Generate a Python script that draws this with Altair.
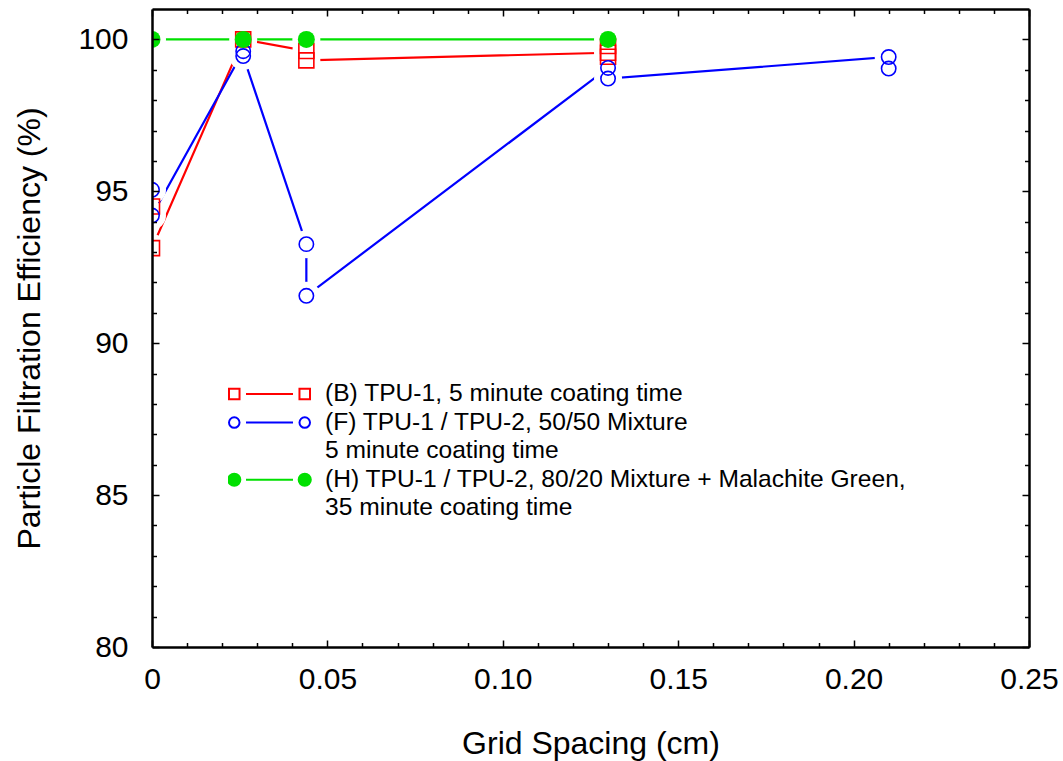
import altair as alt
import pandas as pd

# ---------------- data ----------------
red_x = [0.0, 0.0, 0.026, 0.044, 0.044, 0.13, 0.13, 0.13]
red_y = [94.5, 93.13, 100.0, 99.62, 99.31, 99.56, 99.78, 99.43]

blue_x = [0.0, 0.0, 0.026, 0.026, 0.044, 0.044, 0.13, 0.13, 0.21, 0.21]
blue_y = [95.05, 94.2, 99.61, 99.45, 93.26, 91.56, 99.06, 98.71, 99.42, 99.04]

green_x = [0.0, 0.026, 0.044, 0.13]
green_y = [100.0, 100.0, 100.0, 100.0]

legend_labels = [
    "(B) TPU-1, 5 minute coating time",
    "(F) TPU-1 / TPU-2, 50/50 Mixture",
    "5 minute coating time",
    "(H) TPU-1 / TPU-2, 80/20 Mixture + Malachite Green,",
    "35 minute coating time",
]

x_major = [0.0, 0.05, 0.10, 0.15, 0.20, 0.25]
x_minor = [round(i * 0.01, 2) for i in range(1, 25) if i % 5]
y_major = [80, 85, 90, 95, 100]
y_minor = [v for v in range(81, 101) if v % 5]

RED = "#ff0000"
BLUE = "#0000ff"
GREEN = "#00e000"
FONT = "Liberation Sans"

red_df = pd.DataFrame({"x": red_x, "y": red_y, "i": list(range(len(red_x)))})
blue_df = pd.DataFrame({"x": blue_x, "y": blue_y, "i": list(range(len(blue_x)))})
green_df = pd.DataFrame({"x": green_x, "y": green_y, "i": list(range(len(green_x)))})
legend_df = pd.DataFrame({"entry": legend_labels})

xs = alt.Scale(domain=[0, 0.25], nice=False, zero=False)
ys = alt.Scale(domain=[80, 101], nice=False, zero=False)

MAJ = 7
MIN = 4.5


def tick_axis(orient, values, size):
    return alt.Axis(orient=orient, values=values, tickSize=size, offset=-size,
                    domain=False, grid=False, labels=False, ticks=True,
                    tickColor="black", tickWidth=1.5, zindex=1)


def frame_axis(orient):
    return alt.Axis(orient=orient, domain=True, ticks=False, labels=False,
                    grid=False, domainColor="black", domainWidth=2.5, zindex=1)


main_x_axis = alt.Axis(orient="bottom", values=x_major, tickSize=MAJ, offset=-MAJ,
                       domain=False, grid=False, tickColor="black", tickWidth=1.5,
                       labelExpr="datum.value == 0 ? '0' : format(datum.value, '.2f')",
                       labelFlush=False, labelOverlap=False,
                       labelFont=FONT, labelFontSize=30, labelColor="black",
                       labelPadding=17, titleFont=FONT, titleFontSize=32,
                       titleFontWeight="normal", titleColor="black", titlePadding=34,
                       zindex=1)
main_y_axis = alt.Axis(orient="left", values=y_major, tickSize=MAJ, offset=-MAJ,
                       domain=False, grid=False, tickColor="black", tickWidth=1.5,
                       format="d", labelFlush=False, labelOverlap=False,
                       labelFont=FONT, labelFontSize=30, labelColor="black",
                       labelPadding=24, titleFont=FONT, titleFontSize=32,
                       titleFontWeight="normal", titleColor="black", titlePadding=31,
                       zindex=1)


def X(axis, title=None):
    if axis is None:
        return alt.X("x:Q", scale=xs, axis=None)
    return alt.X("x:Q", scale=xs, axis=axis, title=title)


def Y(axis, title=None):
    if axis is None:
        return alt.Y("y:Q", scale=ys, axis=None)
    return alt.Y("y:Q", scale=ys, axis=axis, title=title)


def line(df, color, xa, ya, xt=None, yt=None):
    return alt.Chart(df).mark_line(color=color, strokeWidth=2.2, clip=True).encode(
        x=X(xa, xt), y=Y(ya, yt), order=alt.Order("i:Q"))


def eraser(df, xa, ya):
    return alt.Chart(df).mark_point(shape="circle", filled=True, color="white",
                                    opacity=1, size=784, clip=True).encode(
        x=X(xa), y=Y(ya))


red_line = line(red_df, RED, main_x_axis, main_y_axis,
                "Grid Spacing (cm)", "Particle Filtration Efficiency (%)")
red_er = eraser(red_df, tick_axis("bottom", x_minor, MIN), tick_axis("left", y_minor, MIN))
blue_line = line(blue_df, BLUE, tick_axis("top", x_major, MAJ), tick_axis("right", y_major, MAJ))
blue_er = eraser(blue_df, tick_axis("top", x_minor, MIN), tick_axis("right", y_minor, MIN))
green_line = line(green_df, GREEN, frame_axis("bottom"), frame_axis("left"))
green_er = eraser(green_df, frame_axis("top"), frame_axis("right"))

red_pts = alt.Chart(red_df).mark_point(shape="square", filled=False, color=RED, opacity=1,
                                       size=225, strokeWidth=1.6, clip=True).encode(
    x=X(None), y=Y(None))
blue_pts = alt.Chart(blue_df).mark_point(shape="circle", filled=False, color=BLUE, opacity=1,
                                         size=206, strokeWidth=1.6, clip=True).encode(
    x=X(None), y=Y(None))
green_pts = alt.Chart(green_df).mark_point(shape="circle", filled=True, color=GREEN, opacity=1,
                                           size=289, clip=True).encode(
    x=X(None), y=Y(None))

# legend symbols: marker - line - marker, drawn as custom paths
red_sym = "M-1,-0.13H-0.74V0.13H-1Z M0.74,-0.13H1V0.13H0.74Z M-0.58,0H0.58"
blue_sym = ("M-0.74,0A0.13,0.13 0 1,0 -1,0A0.13,0.13 0 1,0 -0.74,0Z "
            "M1,0A0.13,0.13 0 1,0 0.74,0A0.13,0.13 0 1,0 1,0Z M-0.58,0H0.58")
green_sym = ("M-0.72,0A0.15,0.15 0 1,0 -1.02,0A0.15,0.15 0 1,0 -0.72,0Z "
             "M1.02,0A0.15,0.15 0 1,0 0.72,0A0.15,0.15 0 1,0 1.02,0Z M-0.58,0H0.58")
blank_sym = "M0,0"

leg = alt.Legend(title=None, orient="none", legendX=76, legendY=372, padding=0,
                 symbolSize=6561, symbolStrokeWidth=2, symbolOpacity=1,
                 clipHeight=26, rowPadding=2.6, labelFont=FONT, labelFontSize=24.6,
                 labelColor="black", labelLimit=900, labelOffset=14, symbolOffset=0)

carrier = alt.Chart(legend_df).mark_point(opacity=0, filled=False, strokeWidth=2).encode(
    stroke=alt.Stroke("entry:N", legend=leg,
                      scale=alt.Scale(domain=legend_labels,
                                      range=[RED, BLUE, "transparent", GREEN, "transparent"])),
    fill=alt.Fill("entry:N", legend=leg,
                  scale=alt.Scale(domain=legend_labels,
                                  range=["transparent", "transparent", "transparent", GREEN, "transparent"])),
    shape=alt.Shape("entry:N", legend=leg,
                    scale=alt.Scale(domain=legend_labels,
                                    range=[red_sym, blue_sym, blank_sym, green_sym, blank_sym])),
)

chart = alt.layer(
    red_line, red_er, blue_line, blue_er, green_line, green_er,
    red_pts, blue_pts, green_pts, carrier,
).resolve_axis(x="independent", y="independent").properties(
    width=877, height=638,
    autosize=alt.AutoSizeParams(type="none"),
    padding={"left": 152, "top": 9, "right": 34, "bottom": 114},
    background="white",
).configure_view(stroke=None)

chart.save("out.html", embed_options={"renderer": "svg", "actions": False})
